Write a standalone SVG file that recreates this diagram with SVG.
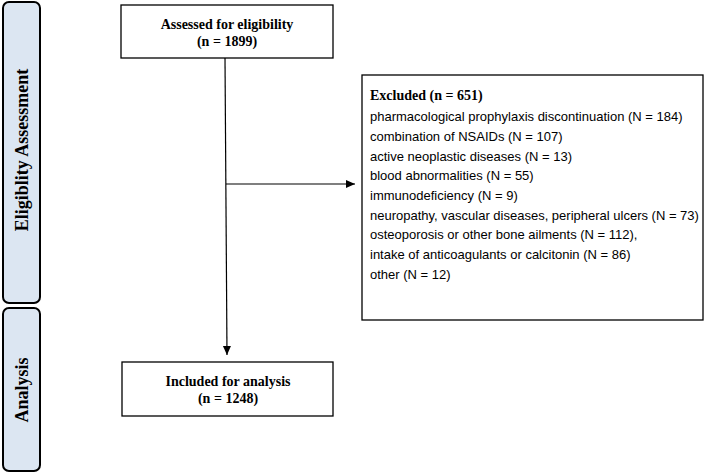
<svg xmlns="http://www.w3.org/2000/svg" width="710" height="473" viewBox="0 0 710 473">
<style>
.side{fill:#dce6f2;stroke:#000;stroke-width:2}
.box{fill:#fff;stroke:#000;stroke-width:1.3}
.b{font-family:"Liberation Serif",serif;font-weight:bold;font-size:14px;text-anchor:middle}
.s{font-family:"Liberation Serif",serif;font-weight:bold;font-size:18px;text-anchor:middle}
.t{font-family:"Liberation Sans",sans-serif;font-size:13px}
.h{font-family:"Liberation Serif",serif;font-weight:bold;font-size:14px}
.ln{stroke:#000;stroke-width:1.2;fill:none}
</style>
<defs><marker id="a" markerWidth="10" markerHeight="10" refX="9" refY="5" orient="auto" markerUnits="userSpaceOnUse"><path d="M0,1 L9,5 L0,9 Z" fill="#000"/></marker></defs>
<g id="side1"><rect class="side" x="3" y="2" width="37" height="301" rx="6"/><text class="s" transform="translate(28,150) rotate(-90)">Eligiblity Assessment</text></g>
<g id="side2"><rect class="side" x="3" y="308" width="37" height="163" rx="6"/><text class="s" transform="translate(28,390) rotate(-90)">Analysis</text></g>
<g id="assessed"><rect class="box" x="121" y="5" width="212" height="53"/><text class="b" x="227" y="29">Assessed for eligibility</text><text class="b" x="227" y="46">(n = 1899)</text></g>
<g id="included"><rect class="box" x="122" y="362" width="211" height="54"/><text class="b" x="228" y="386">Included for analysis</text><text class="b" x="228" y="403">(n = 1248)</text></g>
<g id="excluded"><rect class="box" x="362" y="75" width="341" height="245"/>
<text class="h" x="370" y="100">Excluded (n = 651)</text>
<text class="t" x="370" y="121">pharmacological prophylaxis discontinuation (N = 184)</text>
<text class="t" x="370" y="141">combination of NSAIDs (N = 107)</text>
<text class="t" x="370" y="161">active neoplastic diseases (N = 13)</text>
<text class="t" x="370" y="180">blood abnormalities (N = 55)</text>
<text class="t" x="370" y="200">immunodeficiency (N = 9)</text>
<text class="t" x="370" y="220">neuropathy, vascular diseases, peripheral ulcers (N = 73)</text>
<text class="t" x="370" y="239">osteoporosis or other bone ailments (N = 112),</text>
<text class="t" x="370" y="259">intake of anticoagulants or calcitonin (N = 86)</text>
<text class="t" x="370" y="279">other (N = 12)</text></g>
<g id="connectors"><path class="ln" d="M225,58 L227,355" marker-end="url(#a)"/><path class="ln" d="M226,184 L355,184" marker-end="url(#a)"/></g>
</svg>
